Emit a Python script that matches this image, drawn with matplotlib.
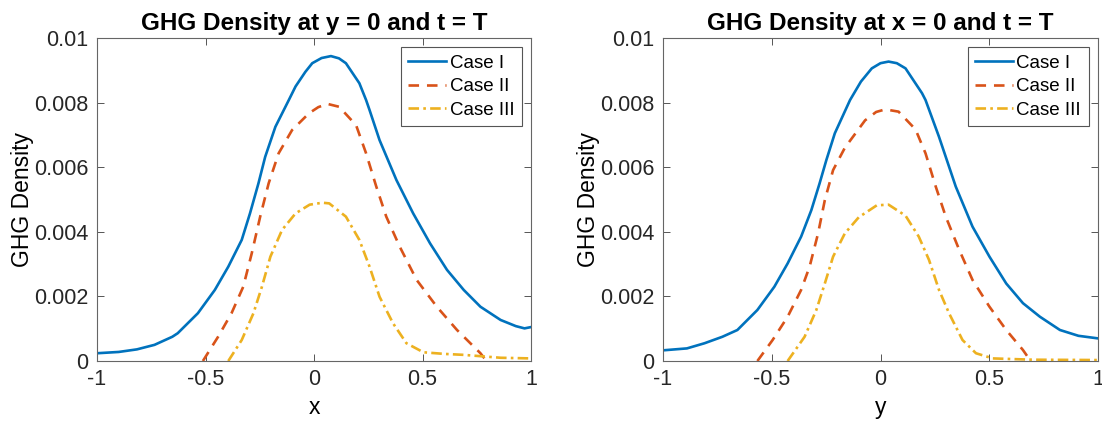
import matplotlib.pyplot as plt
from matplotlib.ticker import FuncFormatter

# left panel: density along x (y = 0, t = T)
x1_case1 = [-1.0, -0.9, -0.816, -0.735, -0.653, -0.628, -0.535, -0.457, -0.395, -0.333,
            -0.295, -0.256, -0.225, -0.178, -0.116, -0.085, -0.04, -0.008, 0.035, 0.078,
            0.115, 0.147, 0.209, 0.24, 0.256, 0.302, 0.38, 0.457, 0.535, 0.613, 0.69,
            0.767, 0.86, 0.93, 0.97, 1.0]
y1_case1 = [0.00024, 0.00028, 0.00036, 0.0005, 0.00075, 0.00086, 0.00148, 0.0022, 0.00292, 0.00375,
            0.00457, 0.0055, 0.00632, 0.00725, 0.00808, 0.0085, 0.00895, 0.00922, 0.00938, 0.00944,
            0.00937, 0.00922, 0.0086, 0.00808, 0.00777, 0.00684, 0.0056, 0.00457, 0.00364, 0.00282,
            0.0022, 0.00168, 0.00127, 0.00108, 0.00101, 0.00105]
x1_case2 = [-0.512, -0.442, -0.38, -0.326, -0.287, -0.248, -0.209, -0.163, -0.101, -0.023,
            0.02, 0.062, 0.116, 0.194, 0.24, 0.287, 0.333, 0.395, 0.473, 0.566, 0.659, 0.767, 0.795]
y1_case2 = [0.0, 0.00075, 0.00148, 0.0023, 0.00333, 0.00447, 0.0055, 0.00643, 0.00715, 0.00767,
            0.00786, 0.00796, 0.00787, 0.0073, 0.00643, 0.0054, 0.00447, 0.00354, 0.00251, 0.00168,
            0.00096, 0.00024, 0.0]
x1_case3 = [-0.395, -0.333, -0.279, -0.24, -0.201, -0.147, -0.085, -0.02, 0.039, 0.07,
            0.147, 0.209, 0.256, 0.302, 0.364, 0.426, 0.504, 0.6, 0.69, 0.86, 1.0]
y1_case3 = [0.0, 0.00065, 0.00148, 0.0023, 0.00323, 0.00406, 0.00457, 0.00484, 0.0049, 0.00488,
            0.00447, 0.00375, 0.00292, 0.00199, 0.00117, 0.00055, 0.00027, 0.00022, 0.00019, 0.0001,
            0.00008]

# right panel: density along y (x = 0, t = T)
x2_case1 = [-1.0, -0.89, -0.809, -0.727, -0.658, -0.566, -0.488, -0.427, -0.365, -0.318,
            -0.28, -0.249, -0.21, -0.14, -0.09, -0.04, 0.0, 0.037, 0.075, 0.115, 0.191, 0.207,
            0.269, 0.346, 0.423, 0.501, 0.578, 0.655, 0.733, 0.825, 0.91, 1.0]
y2_case1 = [0.00033, 0.00039, 0.00055, 0.00075, 0.00096, 0.00158, 0.0023, 0.00302, 0.00385, 0.00467,
            0.0055, 0.00622, 0.00705, 0.00808, 0.00865, 0.00906, 0.00922, 0.00927, 0.00922, 0.00906,
            0.00829, 0.00808, 0.00694, 0.0054, 0.00416, 0.00323, 0.0024, 0.00179, 0.00137, 0.00096,
            0.00078, 0.0007]
x2_case2 = [-0.566, -0.496, -0.427, -0.365, -0.326, -0.287, -0.256, -0.218, -0.164, -0.071,
            -0.02, 0.022, 0.083, 0.161, 0.207, 0.254, 0.3, 0.362, 0.423, 0.501, 0.578, 0.655, 0.69]
y2_case2 = [0.0, 0.00065, 0.00137, 0.0022, 0.00292, 0.00395, 0.00498, 0.00591, 0.0066, 0.00745,
            0.00771, 0.00779, 0.00772, 0.00717, 0.00643, 0.0054, 0.00447, 0.00344, 0.00251, 0.00168,
            0.00096, 0.00034, 0.0]
x2_case3 = [-0.427, -0.349, -0.295, -0.256, -0.218, -0.164, -0.1, -0.017, 0.037, 0.115,
            0.176, 0.223, 0.269, 0.315, 0.377, 0.439, 0.516, 0.7, 1.0]
y2_case3 = [0.0, 0.00075, 0.00158, 0.0024, 0.00323, 0.00395, 0.00445, 0.00482, 0.00484, 0.0045,
            0.00385, 0.00313, 0.0022, 0.00148, 0.00065, 0.00024, 0.00008, 0.00004, 0.00003]

labels = ['Case I', 'Case II', 'Case III']
titles = ['GHG Density at y = 0 and t = T', 'GHG Density at x = 0 and t = T']
xlabels = ['x', 'y']
xticks = [-1, -0.5, 0, 0.5, 1]
yticks = [0, 0.002, 0.004, 0.006, 0.008, 0.01]

colors = ['#0072BD', '#D95319', '#EDB120']
styles = ['-', (0, (4, 3)), (0, (4, 1.6, 1, 1.6))]

plt.rcParams['font.family'] = ['Liberation Sans', 'DejaVu Sans']
plt.rcParams['text.color'] = '#262626'

fig = plt.figure(figsize=(11.02, 4.26), dpi=100)
ax1 = fig.add_axes([97 / 1102, 65 / 426, 434 / 1102, 323 / 426])
ax2 = fig.add_axes([663 / 1102, 65 / 426, 435 / 1102, 323 / 426])

panels = [
    (ax1, [(x1_case1, y1_case1), (x1_case2, y1_case2), (x1_case3, y1_case3)]),
    (ax2, [(x2_case1, y2_case1), (x2_case2, y2_case2), (x2_case3, y2_case3)]),
]

def fmt(v, pos):
    return '0' if v == 0 else ('%g' % v)

for i, (ax, series) in enumerate(panels):
    for (xs, ys), lab, c, ls in zip(series, labels, colors, styles):
        ax.plot(xs, ys, color=c, linestyle=ls, linewidth=1.9, label=lab)
    ax.set_xlim(-1, 1)
    ax.set_ylim(0, 0.01)
    ax.set_xticks(xticks)
    ax.set_yticks(yticks)
    ax.xaxis.set_major_formatter(FuncFormatter(fmt))
    ax.yaxis.set_major_formatter(FuncFormatter(fmt))
    ax.tick_params(direction='in', top=True, right=True, length=5, width=0.7,
                   color='#555555', labelsize=15.5, labelcolor='#262626', pad=6)
    for s in ax.spines.values():
        s.set_color('#666666')
        s.set_linewidth(0.8)
    ax.set_title(titles[i], fontsize=17.5, fontweight='bold', color='black', pad=6)
    ax.set_xlabel(xlabels[i], fontsize=16.5, labelpad=4)
    ax.set_ylabel('GHG Density', fontsize=16.5, labelpad=0)
    leg = ax.legend(loc='upper right', fontsize=13.5, handlelength=2.0, handletextpad=0.2,
                    borderaxespad=0.5, borderpad=0.4, labelspacing=0.33, fancybox=False,
                    framealpha=1, edgecolor='#555555')
    for t in leg.get_texts():
        t.set_color('black')
    leg.get_frame().set_linewidth(0.8)

fig.savefig('out.png', dpi=100)
